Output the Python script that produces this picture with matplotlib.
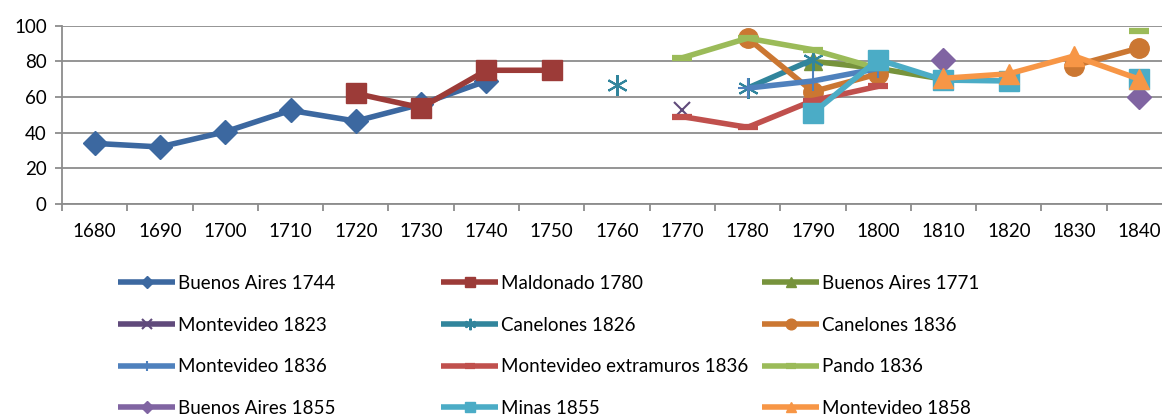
import numpy as np
import matplotlib
matplotlib.use("Agg")
import matplotlib.pyplot as plt

plt.rcParams['font.family'] = ['Lato', 'DejaVu Sans']

nan = np.nan
years = [1680, 1690, 1700, 1710, 1720, 1730, 1740, 1750, 1760,
         1770, 1780, 1790, 1800, 1810, 1820, 1830, 1840]

#                 1680 1690 1700 1710 1720 1730 1740 1750 1760 1770 1780 1790 1800 1810 1820 1830 1840
buenos_aires_1744 = [34, 32, 40.5, 52.5, 46.5, 56, 69, nan, nan, nan, nan, nan, nan, nan, nan, nan, nan]
maldonado_1780 = [nan, nan, nan, nan, 62, 54, 75, 75, nan, nan, nan, nan, nan, nan, nan, nan, nan]
buenos_aires_1771 = [nan, nan, nan, nan, nan, nan, nan, nan, nan, nan, nan, 80, 76, 70, nan, nan, nan]
montevideo_1823 = [nan, nan, nan, nan, nan, nan, nan, nan, nan, 53, nan, nan, nan, nan, nan, nan, nan]
canelones_1826 = [nan, nan, nan, nan, nan, nan, nan, nan, 66.5, nan, 65, 81, nan, nan, nan, nan, nan]
canelones_1836 = [nan, nan, nan, nan, nan, nan, nan, nan, nan, nan, 93, 63, 73, nan, nan, 77.5, 87.5]
montevideo_1836 = [nan, nan, nan, nan, nan, nan, nan, nan, nan, nan, 65, 69, 76, nan, nan, nan, nan]
montevideo_extramuros_1836 = [nan, nan, nan, nan, nan, nan, nan, nan, nan, 49, 43, 58, 66, nan, nan, nan, nan]
pando_1836 = [nan, nan, nan, nan, nan, nan, nan, nan, nan, 82, 93, 86.5, 76, nan, nan, nan, 97]
buenos_aires_1855 = [nan, nan, nan, nan, nan, nan, nan, nan, nan, nan, nan, nan, nan, 80.5, nan, nan, 60]
minas_1855 = [nan, nan, nan, nan, nan, nan, nan, nan, nan, nan, nan, 51, 81, 69.5, 69, nan, 70]
montevideo_1858 = [nan, nan, nan, nan, nan, nan, nan, nan, nan, nan, nan, nan, nan, 70.5, 73, 83, 70]

series = [
    ("Buenos Aires 1744", buenos_aires_1744, '#3C68A0', 'D', 12, 1),
    ("Maldonado 1780", maldonado_1780, '#9C3B38', 's', 14, 1),
    ("Buenos Aires 1771", buenos_aires_1771, '#77933C', '^', 13, 1),
    ("Montevideo 1823", montevideo_1823, '#604A7B', 'x', 12, 1.5),
    ("Canelones 1826", canelones_1826, '#31859C', (6, 2, 0), 15, 1.5),
    ("Canelones 1836", canelones_1836, '#CB7732', 'o', 14, 1),
    ("Montevideo 1836", montevideo_1836, '#4F81BD', '+', 14, 1.5),
    ("Montevideo extramuros 1836", montevideo_extramuros_1836, '#C0504D', '_', 14, 4.5),
    ("Pando 1836", pando_1836, '#9BBB59', '_', 14, 4.5),
    ("Buenos Aires 1855", buenos_aires_1855, '#8064A2', 'D', 12, 1),
    ("Minas 1855", minas_1855, '#4BACC6', 's', 14, 1),
    ("Montevideo 1858", montevideo_1858, '#F79646', '^', 14, 1),
]

fig = plt.figure(figsize=(11.62, 4.16), dpi=100)
ax = fig.add_axes([62 / 1162, 1 - 204 / 416, 1110 / 1162, 178.3 / 416])

x = np.arange(len(years))
lines = []
for name, vals, col, mk, ms, mew in series:
    ln, = ax.plot(x, vals, color=col, lw=4, marker=mk, markersize=ms,
                  markeredgewidth=mew, markeredgecolor=col, markerfacecolor=col,
                  label=name, solid_capstyle='butt', clip_on=True)
    lines.append(ln)

ax.set_xlim(-0.5, len(years) - 0.5)
ax.set_ylim(0, 100)
ax.set_yticks([0, 20, 40, 60, 80, 100])
ax.set_xticks(x)
ax.set_xticklabels([str(y) for y in years])
ax.set_xticks(np.arange(-0.5, len(years)), minor=True)
ax.grid(axis='y', color='#8c8c8c', lw=1.3)
ax.set_axisbelow(True)
for s in ['top', 'right']:
    ax.spines[s].set_visible(False)
for s in ['left', 'bottom']:
    ax.spines[s].set_color('#8c8c8c')
    ax.spines[s].set_linewidth(1.3)
ax.tick_params(axis='x', which='major', length=0, pad=14, labelsize=13.5)
ax.tick_params(axis='x', which='minor', length=5, color='#8c8c8c', width=1.3)
ax.tick_params(axis='y', length=5, color='#8c8c8c', width=1.3, pad=6, labelsize=13.5)

col_x = [118, 441, 762]
for c in range(3):
    hs = lines[c::3]
    fig.legend(handles=hs, loc='upper left',
               bbox_to_anchor=(col_x[c] / 1162, 1 - 275 / 416),
               frameon=False, fontsize=13.5, handlelength=3.05, handletextpad=0.15,
               labelspacing=1.31, markerscale=0.55, borderaxespad=0, borderpad=0)

fig.savefig("out.png", dpi=100)
